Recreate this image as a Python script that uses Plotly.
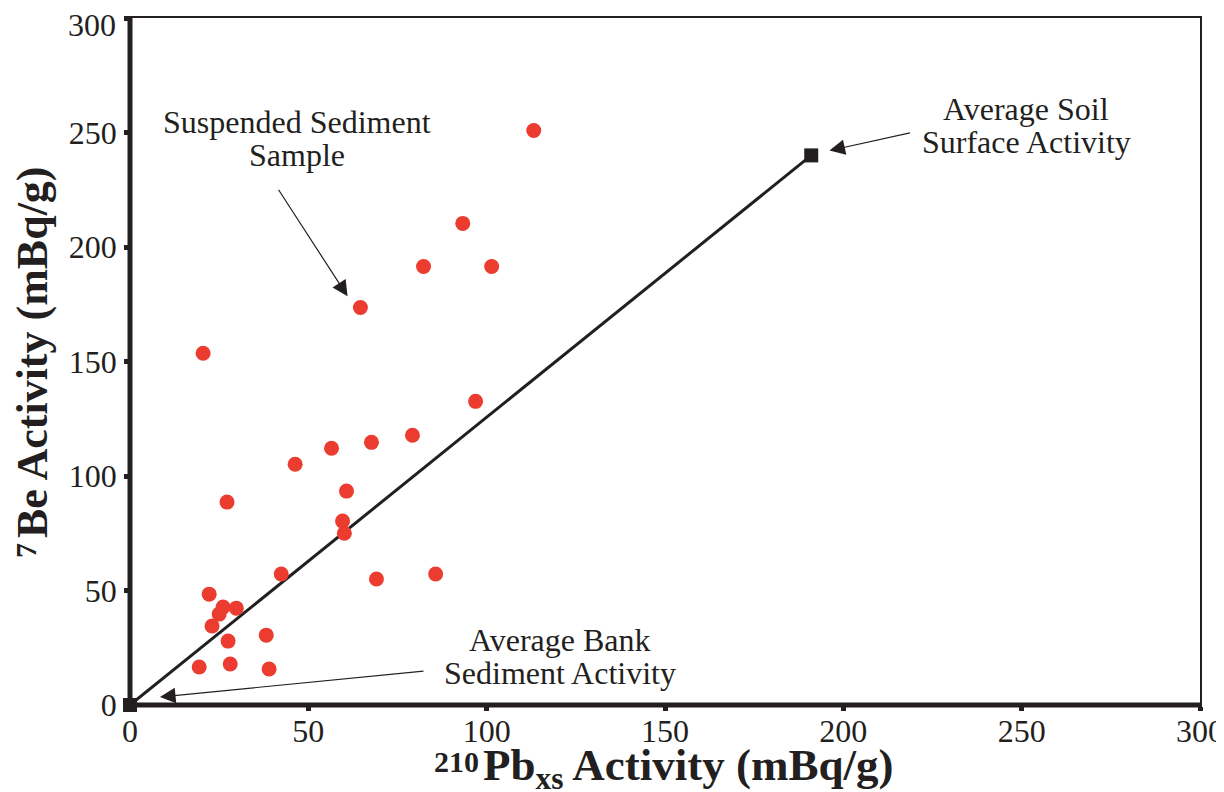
import plotly.graph_objects as go

# Data
pb210_xs = [113.2, 93.3, 82.3, 101.4, 64.6, 20.5, 96.9, 79.2, 67.7, 56.5, 46.3, 60.7, 27.2,
            59.6, 60.1, 42.4, 85.7, 69.1, 22.2, 26.1, 29.8, 25.0, 23.0, 27.5, 38.2, 28.1,
            19.4, 39.0]
be7 = [250.9, 210.3, 191.5, 191.5, 173.6, 153.6, 132.6, 117.8, 114.7, 112.1, 105.1, 93.4,
       88.6, 80.3, 75.0, 57.2, 57.2, 55.0, 48.4, 42.8, 42.3, 39.7, 34.5, 27.9, 30.5, 17.9,
       16.6, 15.7]
mix_x = [0, 191]
mix_y = [0, 240]
tick_vals = [0, 50, 100, 150, 200, 250, 300]
tick_text = ["0", "50", "100", "150", "200", "250", "300"]

FONT = "Liberation Serif, Times New Roman, serif"
INK = "#231f20"

# page body has an 8px margin, so the figure is offset by (8, 8)
OFF = 8
W, H = 1216, 784
L, R, T, B = 122, 24, 10, 87
PW, PH = W - L - R, H - T - B


def px(xp):
    return (xp - OFF - L) / PW


def py(yp):
    return (H - B - (yp - OFF)) / PH


fig = go.Figure()
fig.add_trace(go.Scatter(x=mix_x, y=mix_y, mode="lines+markers",
                         line=dict(color=INK, width=3),
                         marker=dict(symbol="square", size=14, color=INK),
                         cliponaxis=False, showlegend=False))
fig.add_trace(go.Scatter(x=pb210_xs, y=be7, mode="markers",
                         marker=dict(color="#ec3b2f", size=15, line=dict(width=0)),
                         showlegend=False))

axis_common = dict(range=[0, 300], tickvals=tick_vals, showgrid=False, zeroline=False,
                   showline=True, linecolor=INK, linewidth=1.5, mirror=True,
                   ticks="outside", ticklen=4, tickwidth=5, tickcolor=INK,
                   automargin=False, ticklabeloverflow="allow",
                   tickfont=dict(family=FONT, size=32, color=INK))
fig.update_xaxes(**axis_common, ticktext=tick_text, ticklabelstandoff=-7)
# top y label is drawn slightly lower (inside the page) as an annotation below
fig.update_yaxes(**axis_common, ticktext=tick_text[:-1] + [""], ticklabelstandoff=1)
fig.add_annotation(x=px(118), y=py(25), xref="paper", yref="paper", text=tick_text[-1],
                   showarrow=False, font=dict(family=FONT, size=32, color=INK),
                   xanchor="right", yanchor="middle")

# thick left/bottom axis lines
fig.add_shape(type="line", xref="paper", yref="paper", x0=0, x1=1, y0=0, y1=0,
              line=dict(color=INK, width=5))
fig.add_shape(type="line", xref="paper", yref="paper", x0=0, x1=0, y0=0, y1=1,
              line=dict(color=INK, width=5))

tf = dict(family=FONT, size=32, color=INK)


def label(lines, xc, yc_list):
    for t, yc in zip(lines, yc_list):
        fig.add_annotation(x=px(xc), y=py(yc), xref="paper", yref="paper", text=t,
                           showarrow=False, font=tf, xanchor="center", yanchor="middle")


arrow = dict(text="", showarrow=True, arrowhead=2, arrowsize=2.6, arrowwidth=1.2,
             arrowcolor=INK)
fig.add_annotation(x=61, y=178.5, ax=-70, ay=-108, **arrow)
label(["Suspended Sediment", "Sample"], 297, [122, 155])

fig.add_annotation(x=196.1, y=242.1, ax=82, ay=-18, **arrow)
label(["Average Soil", "Surface Activity"], 1026, [109, 142])

fig.add_annotation(x=8.4, y=3.5, ax=265, ay=-26, **arrow)
label(["Average Bank", "Sediment Activity"], 560, [640, 673])

# axis titles (superscript isotope numbers drawn as separate smaller texts)
bf = dict(family=FONT, size=45, color=INK)
sf = dict(family=FONT, size=30, color=INK)
fig.add_annotation(x=px(481), y=py(768), xref="paper", yref="paper",
                   text="<b>Pb<sub>xs</sub> Activity (mBq/g)</b>", showarrow=False,
                   font=bf, xanchor="left", yanchor="middle")
fig.add_annotation(x=px(481), y=py(761), xref="paper", yref="paper",
                   text="<b>210</b>", showarrow=False,
                   font=sf, xanchor="right", yanchor="middle")
fig.add_annotation(x=px(32), y=py(540), xref="paper", yref="paper",
                   text="<b>Be Activity (mBq/g)</b>", showarrow=False, textangle=-90,
                   font=dict(family=FONT, size=44, color=INK), xanchor="center", yanchor="bottom")
fig.add_annotation(x=px(25), y=py(551), xref="paper", yref="paper",
                   text="<b>7</b>", showarrow=False, textangle=-90,
                   font=sf, xanchor="center", yanchor="middle")

fig.update_layout(width=W, height=H, margin=dict(l=L, r=R, t=T, b=B, autoexpand=False),
                  plot_bgcolor="white", paper_bgcolor="white")

fig.write_html("out.html")
